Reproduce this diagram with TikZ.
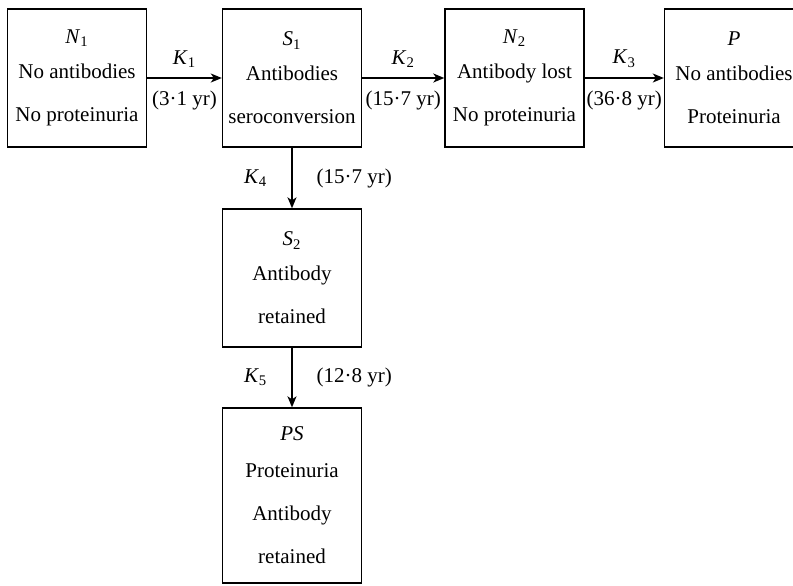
\documentclass[tikz,border=0pt]{standalone}
\usepackage{fontspec}
\setmainfont{Liberation Serif}
\usetikzlibrary{arrows.meta}
\newcommand{\stname}[2]{\textit{#1}\textsubscript{#2}}

\begin{document}
\begin{tikzpicture}[x=0.5pt, y=-0.5pt,
		stbox/.style={draw, line width=0.7pt, minimum width=69.5pt, minimum height=69pt,
			inner sep=0pt, align=center, font=\fontsize{10.5}{21.5}\selectfont},
		flow/.style={line width=0.7pt, -{Stealth[length=5.5pt, width=4.5pt, inset=1.5pt]}},
		rate/.style={font=\fontsize{10.5}{12}\selectfont, inner sep=2pt}]
			%%%%% START %%%%%
			
			\useasboundingbox (0, 0) rectangle (793, 585);
			
			\node[stbox] (n1) at (77, 78) {\stname{N}{1}\\[-4pt] No antibodies\\ No proteinuria};
			\node[stbox] (s1) at (292, 78) {\stname{S}{1}\\[-4pt] Antibodies\\ seroconversion};
			\node[stbox] (n2) at (514.5, 78) {\stname{N}{2}\\[-4pt] Antibody lost\\ No proteinuria};
			\node[stbox] (p) at (734, 78) {\textit{P}\\[-4pt] No antibodies\\ Proteinuria};
			
			\node[stbox] (s2) at (292, 278) {\stname{S}{2}\\[-4pt] Antibody\\ retained};
			\node[stbox, minimum height=87.5pt] (ps) at (292, 495.5) {\textit{PS}\\[-3pt] Proteinuria\\ Antibody\\ retained};
			
			\draw[flow] (n1) -- node[rate, above=3pt] {\stname{K}{1}} node[rate, below=4pt] {(3·1 yr)} (s1);
			\draw[flow] (s1) -- node[rate, above=3pt] {\stname{K}{2}} node[rate, below=4pt] {(15·7 yr)} (n2);
			\draw[flow] (n2) -- node[rate, above=3pt] {\stname{K}{3}} node[rate, below=4pt] {(36·8 yr)} (p);
			
			\draw[flow] (s1) -- node[rate, left=10pt] {\stname{K}{4}} node[rate, right=10pt] {(15·7 yr)} (s2);
			\draw[flow] (s2) -- node[rate, left=10pt] {\stname{K}{5}} node[rate, right=10pt] {(12·8 yr)} (ps);
			
			%%%%% END %%%%%
		\end{tikzpicture}
\end{document}
